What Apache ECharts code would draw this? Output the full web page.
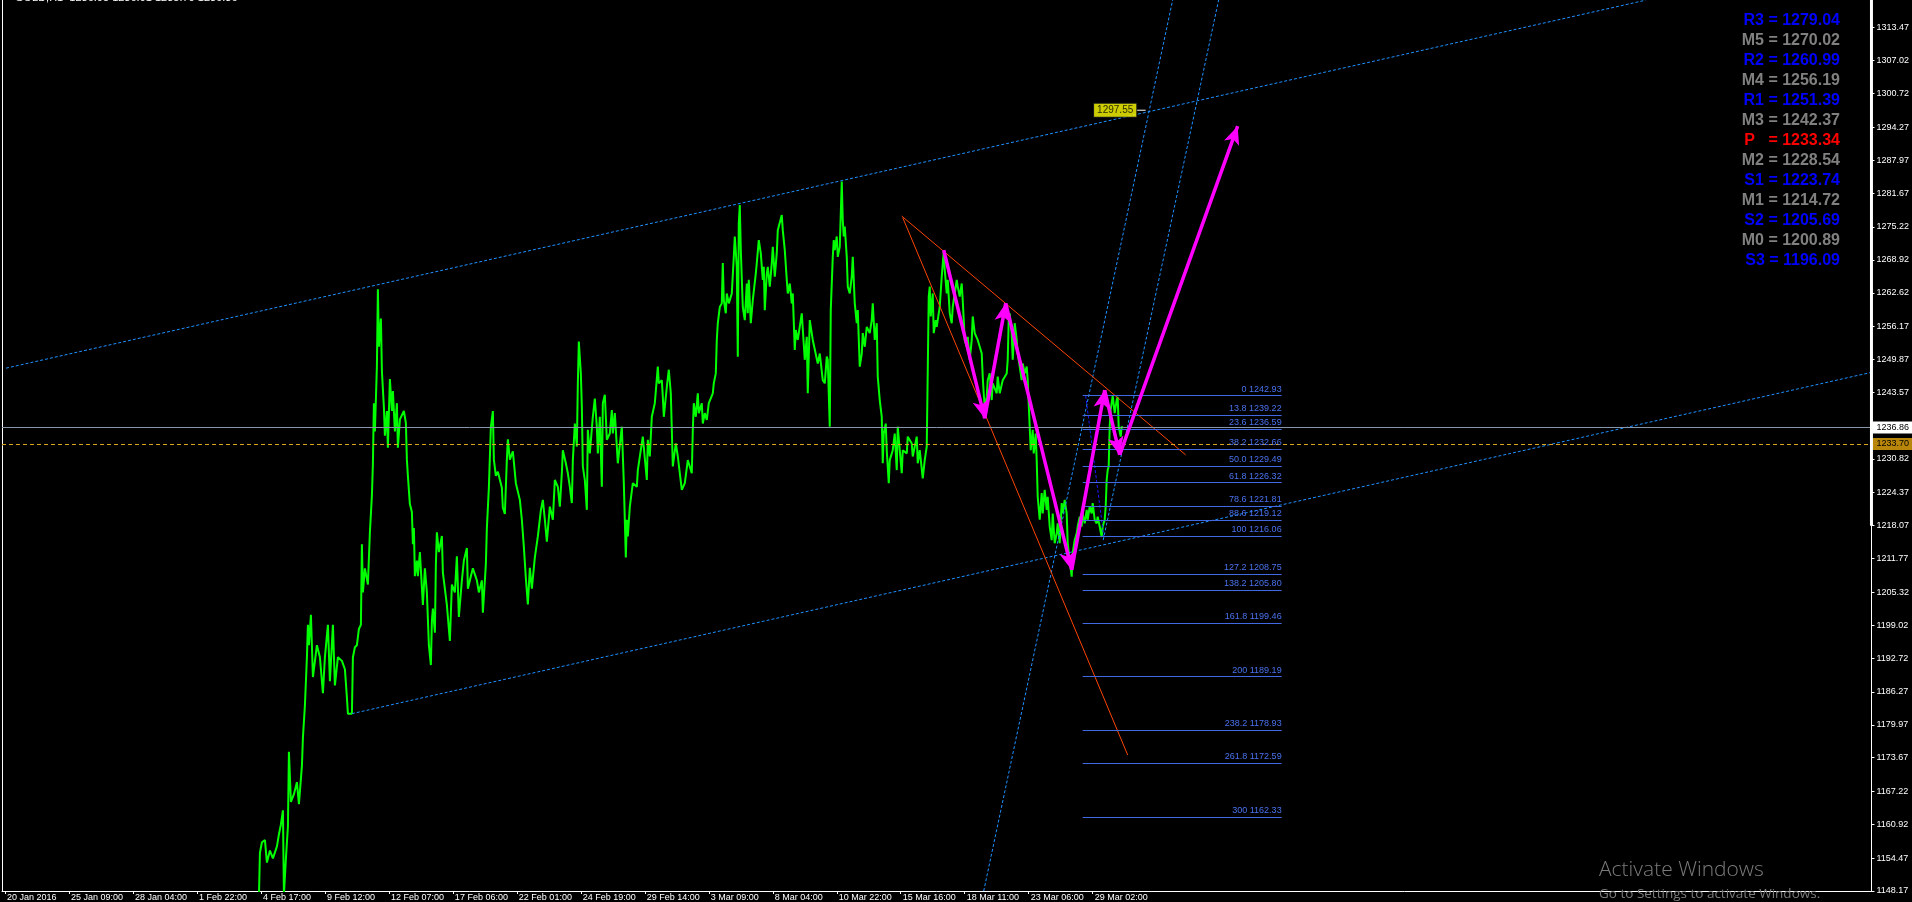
<!DOCTYPE html>
<html><head><meta charset="utf-8">
<script src="https://cdn.jsdelivr.net/npm/echarts@6/dist/echarts.min.js"></script>
<style>html,body{margin:0;padding:0;background:#000;overflow:hidden}#c{width:1912px;height:902px;}</style>
</head><body><div id="c"></div>
<script>
// ---------- data ----------
const titleText = '\u2022 GOLD,H1  1236.05 1236.91 1235.70 1236.86';
const xTickBars = [0,64,128,192,256,320,384,448,512,576,640,704,768,832,896,960,1024,1088];
const xTickLabels = ['20 Jan 2016','25 Jan 09:00','28 Jan 04:00','1 Feb 22:00','4 Feb 17:00','9 Feb 12:00','12 Feb 07:00','17 Feb 06:00','22 Feb 01:00','24 Feb 19:00','29 Feb 14:00','3 Mar 09:00','8 Mar 04:00','10 Mar 22:00','15 Mar 16:00','18 Mar 11:00','23 Mar 06:00','29 Mar 02:00'];
const yTickValues = [1313.47,1307.02,1300.72,1294.27,1287.97,1281.67,1275.22,1268.92,1262.62,1256.17,1249.87,1243.57,1230.82,1224.37,1218.07,1211.77,1205.32,1199.02,1192.72,1186.27,1179.97,1173.67,1167.22,1160.92,1154.47,1148.17];
const bidPrice = 1236.86;
const askPrice = 1233.70;

// GOLD H1 price path [bar index, price]
const priceSeries = [
[254,1147],[255,1155.5],[257,1157.5],[260,1157.9],[262,1153.6],[265,1155.9],[268,1154.4],[272,1156.7],[274,1159.0],[276,1160.9],[278,1163.6],[279,1147.5],[281,1154.4],[283,1160.5],[284,1174.8],[286,1165.2],[289,1166.7],[292,1169.0],[294,1164.8],[297,1172.1],[298,1177.5],[300,1183.7],[302,1192.9],[303,1199.1],[304,1195.2],[306,1201.0],[308,1189.1],[312,1195.2],[315,1192.9],[318,1186.0],[320,1192.9],[323,1199.1],[325,1188.3],[328,1199.1],[330,1187.5],[333,1192.9],[337,1192.2],[340,1190.6],[342,1185.2],[343,1182.1],[347,1182.1],[348,1192.9],[350,1194.8],[352,1195.2],[354,1198.3],[356,1199.1],[357,1214.5],[358,1205.3],[360,1209.9],[363,1206.8],[365,1216.8],[367,1223.8],[368,1229.9],[369,1241.5],[370,1236.1],[372,1248.5],[373,1263.3],[374,1252.3],[376,1257.7],[377,1247.7],[379,1240.7],[380,1235.3],[382,1240.0],[383,1233.0],[385,1246.1],[387,1240.0],[388,1243.8],[390,1236.1],[392,1241.5],[393,1233.0],[395,1238.4],[399,1240.0],[401,1237.7],[402,1230.7],[403,1227.6],[405,1222.2],[407,1220.7],[408,1214.5],[409,1217.6],[410,1208.4],[412,1211.4],[413,1208.4],[415,1213.0],[418,1202.9],[420,1209.9],[422,1205.3],[424,1195.2],[426,1191.4],[427,1199.9],[428,1202.2],[430,1197.6],[431,1210.7],[432,1216.8],[434,1213.0],[437,1216.1],[438,1209.1],[442,1202.9],[443,1200.6],[445,1196.0],[447,1206.8],[450,1205.3],[452,1212.2],[454,1200.6],[457,1207.6],[459,1211.4],[462,1213.8],[463,1206.0],[466,1208.4],[468,1209.9],[472,1207.6],[474,1205.3],[477,1207.6],[478,1201.4],[481,1210.7],[482,1217.6],[484,1225.3],[486,1236.9],[488,1240.0],[489,1230.7],[491,1227.6],[493,1228.4],[497,1225.3],[498,1221.5],[500,1220.3],[502,1230.7],[503,1234.6],[505,1230.7],[508,1232.3],
[511,1226.2],[513,1226.2],[515,1223.0],[517,1219.2],[519,1214],[521,1208],[523,1203],[525,1210],[527,1206],[530,1212],[533,1216],[536,1221],[538,1223.0],[540,1219.2],[542,1215],[545,1221.7],[548,1219.2],[550,1226.8],[553,1225.5],[555,1221.7],[557,1228.1],[558,1232.5],[561,1230.0],[563,1228.1],[565,1225.5],[567,1222.4],[568,1230.6],[570,1237.6],[572,1233.2],[573,1245.3],[574,1253.3],[576,1247.2],[577,1240.8],[578,1229.4],[580,1226.8],[582,1221.1],[583,1236.4],[585,1231.9],[588,1238.9],[590,1242.4],[592,1237.0],[593,1231.9],[595,1238.9],[597,1225.5],[598,1241.5],[600,1243.1],[602,1234.5],[605,1235.7],[607,1240.2],[608,1235.7],[610,1239.6],[613,1230.0],[617,1237.0],[619,1226.2],[621,1212],[622,1219.2],[623,1216],[625,1221.7],[628,1226.2],[632,1225.5],[633,1228.7],[637,1233.8],[638,1235.1],[642,1226.8],[643,1234.5],[645,1231.3],[647,1238.9],[650,1241.5],[653,1248.5],[654,1245.3],[657,1245.9],[658,1242.7],[659,1238.9],[662,1244.6],[664,1247.9],[666,1243.4],[667,1236.4],[668,1229.4],[671,1233.8],[673,1231.3],[677,1224.9],[680,1226.2],[683,1230.6],[687,1228.1],[688,1236.4],[689,1241.5],[691,1238.9],[693,1243.4],[694,1239.6],[697,1241.5],[698,1237.6],[700,1239.6],[702,1238.3],[704,1241.5],[708,1243.4],[709,1245.3],[711,1247.2],[712,1253.6],[713,1256.8],[715,1259.9],[717,1260.6],[718,1268.3],[719,1261.2],[721,1258.7],[722,1262.5],[724,1260.6],[727,1262.5],[729,1269.5],[730,1273.4],[732,1267.6],[733,1250.4],[734,1275.9],[735,1279.4],[736,1270.8],[738,1259.9],[740,1257.4],[742,1264.4],[743,1258.7],[744,1265.1],[746,1256.8],[748,1261.2],[751,1266.3],[752,1268.3],[754,1272.7],[756,1270.2],[758,1265.1],[759,1267.6],[760,1259.3],[762,1266.3],[763,1267.6],[765,1263.8],[767,1268.3],[768,1271.4],[770,1265.7],[772,1270.2],[773,1274.6],[777,1277.5],[778,1274.6],[780,1270.8],[782,1265.1],[783,1262.5],[785,1264.4],[787,1260.6],[788,1262.5],[790,1251.7],[791,1255.5],[793,1253.6],[797,1258.7],[800,1249.8],[802,1254.2],[803,1243.4],[805,1257.4],[808,1253.6],[813,1249.1],[815,1251.0],
[817,1251.0],[818,1245.9],[820,1245.3],[822,1250.4],[823,1249.8],[825,1237.0],[826,1259.3],[828,1269.5],[829,1272.7],[830,1270.8],[832,1273.4],[833,1269.5],[835,1271.4],[837,1283.9],[838,1276.5],[839,1273.4],[840,1275.3],[842,1269.5],[843,1263.8],[845,1262.5],[847,1265.7],[848,1269.5],[850,1260.6],[852,1256.8],[853,1259.3],[855,1248.5],[857,1251.0],[858,1254.9],[860,1252.3],[862,1256.1],[865,1254.9],[867,1257.4],[868,1260.6],[870,1253.6],[872,1256.8],[873,1246.6],[875,1242.1],[877,1238.9],[878,1230.0],[879,1235.7],[881,1237.6],[882,1232.5],[884,1226.2],[885,1230.6],[888,1232.5],[890,1235.7],[892,1228.7],[893,1237.0],[897,1228.1],[898,1232.5],[902,1231.9],[903,1235.1],[907,1233.8],[908,1231.3],[912,1235.1],[913,1230.0],[915,1232.5],[918,1227.1],[920,1230.6],[922,1233.2],[924,1261.9],[925,1263.8],[926,1258.1],[928,1262.5],[929,1254.9],[931,1257.4],[932,1256.1],[934,1258.7],[935,1259.9],[937,1265.7],[939,1270.5],[940,1267.0],[942,1262.5],[943,1265.1],[945,1258.7],[947,1256.8],[948,1259.9],[952,1265.1],[953,1263.8],[955,1261.9],[957,1264.4],[958,1261.2],[960,1253.6],[962,1252.3],[963,1254.2],[965,1249.8],[967,1253.6],[968,1258.1],[970,1254.9],[973,1253.6],[977,1251.0],[978,1246.6],[979,1243.4],[980,1240.8],[982,1242.7],[983,1245.9],[985,1247.2],[987,1242.1],[988,1245.3],[992,1243.4],[993,1246.6],[995,1243.4],[998,1245.9],[1002,1247.2],[1003,1249.8],[1004,1257.4],[1005,1258.7],[1007,1254.9],[1008,1249.8],[1010,1256.8],[1012,1253.6],[1013,1251.0],[1015,1248.5],[1017,1245.9],[1018,1249.1],[1020,1247.2],[1022,1248.5],[1023,1245.9],[1025,1237.0],[1026,1232.5],[1028,1236.4],[1029,1231.9],[1031,1235.7],[1032,1230.6],[1033,1223.6],[1035,1219.2],[1037,1224.3],[1038,1220.4],[1040,1224.9],[1042,1221.1],[1043,1223.6],[1045,1217.9],[1047,1215.3],[1048,1220.4],[1050,1214.7],[1052,1216.6],[1053,1218.5],[1055,1214.7],[1057,1222.4],[1058,1220.4],[1060,1223.0],[1062,1220.4],[1063,1214.7],[1065,1211.5],[1067,1208.3],[1068,1212.8],[1070,1215.3],[1072,1216.6],[1073,1217.9],[1075,1219.8],[1077,1217.9],[1078,1220.4],[1080,1218.5],[1082,1221.1],[1083,1219.2],[1085,1221.7],[1087,1220.4],[1088,1222.4],[1090,1219.2],[1092,1218.5],[1093,1219.8],[1095,1217.9],[1097,1215.9],[1098,1217.9],[1100,1219.2],[1101,1221.7],[1102,1226.8],[1103,1228.7],[1104,1229.4],[1105,1237.0],[1106,1240.2],[1108,1242.9],[1110,1239.6],[1112,1242.1],[1113,1242.7],[1114,1237.0],[1116,1235.1],[1117,1237.0],[1118,1236.86]
];

// trend lines: [[bar, price], [bar, price]]
const channelUpper = [[1, 1248.2], [1641, 1318.6]];
const channelLower = [[347, 1182.1], [1867, 1247.4]];
const steepLineA = [[979, 1148.17], [1168, 1318.64]];
const steepLineB = [[1098.5, 1215.3], [1214, 1318.64]];
const fibDiagonal = [[1081, 1242.93], [1099, 1216.06]];
const wedgeUpper = [[897, 1277.3], [1181, 1231.6]];
const wedgeLower = [[898, 1277.0], [1123, 1174.2]];
const trendLabelPoint = [1110.5, 1297.55];
const trendLabelTick = [[1132, 1297.55], [1141, 1297.55]];

// Fibonacci retracement / expansion
const fibStartBar = 1078, fibEndBar = 1277;
const fibLevels = ['0','13.8','23.6','38.2','50.0','61.8','78.6','88.6','100','127.2','138.2','161.8','200','238.2','261.8','300'];
const fibPrices = [1242.93,1239.22,1236.59,1232.66,1229.49,1226.32,1221.81,1219.12,1216.06,1208.75,1205.80,1199.46,1189.19,1178.93,1172.59,1162.33];

// magenta wave arrows (consecutive pivots)
const wavePoints = [[939,1270.8],[980,1238.6],[1001,1260.6],[1067,1209.6],[1100,1244.0],[1115,1231.6],[1233,1294.5]];

// pivot indicator panel
const pivotNames = ['R3','M5','R2','M4','R1','M3','P','M2','S1','M1','S2','M0','S3'];
const pivotValues = [1279.04,1270.02,1260.99,1256.19,1251.39,1242.37,1233.34,1228.54,1223.74,1214.72,1205.69,1200.89,1196.09];

// axis highlight bar on the price scale
const scaleBar = [[1867, 1318.64], [1867, 1218.07]];

// ---------- chart ----------
const chart = echarts.init(document.getElementById('c'), null, {renderer: 'canvas'});
const FONT = '"Liberation Sans", Arial, sans-serif';
const dotted = (c) => ({color: c, width: 1, type: [3, 2]});
function trend(name, pts, style, z) {
  return {name, type: 'line', data: pts, showSymbol: false, symbol: 'none', silent: true,
          lineStyle: style, clip: true, z: z || 3, animation: false};
}

const fibMarks = fibLevels.map((lv, i) => [
  {coord: [fibStartBar, fibPrices[i]], label: {formatter: lv + ' ' + fibPrices[i].toFixed(2)}},
  {coord: [fibEndBar, fibPrices[i]]}
]);
const waveMarks = [];
for (let i = 0; i < wavePoints.length - 1; i++) {
  waveMarks.push([{coord: wavePoints[i]}, {coord: wavePoints[i + 1]}]);
}

const pivotGraphics = pivotNames.map((n, i) => ({
  type: 'text', right: 72, top: 13 + i * 20, silent: true, z: 50,
  style: {
    text: (n === 'P' ? 'P   ' : n + ' ') + '= ' + pivotValues[i].toFixed(2),
    fill: n === 'P' ? '#ff0000' : (n[0] === 'M' ? '#808080' : '#0000ff'),
    font: 'bold 16px ' + FONT, textAlign: 'right'
  }
}));

const option = {
  backgroundColor: '#000000',
  animation: false,
  grid: {left: 2, right: 40, top: 0, bottom: 11},
  xAxis: {
    type: 'value', min: -3, max: 1867,
    axisLine: {show: true, onZero: false, lineStyle: {color: '#ffffff', width: 1}},
    axisTick: {show: true, customValues: xTickBars, length: 3, lineStyle: {color: '#ffffff'}},
    axisLabel: {show: true, customValues: xTickBars,
      formatter: (v) => { const k = xTickBars.indexOf(v); return k >= 0 ? xTickLabels[k] : ''; },
      color: '#ffffff', fontFamily: FONT, fontSize: 9,
      align: 'left', margin: 2, padding: [0, 0, 0, 2]},
    splitLine: {show: false}
  },
  yAxis: [{
    type: 'value', position: 'right', min: 1148.17, max: 1318.64,
    axisLine: {show: true, onZero: false, lineStyle: {color: '#ffffff', width: 1}},
    axisTick: {show: true, customValues: yTickValues, length: 3, lineStyle: {color: '#ffffff'}},
    axisLabel: {show: true, customValues: yTickValues, formatter: (v) => v.toFixed(2),
      color: '#ffffff', fontFamily: FONT, fontSize: 9, margin: 5},
    splitLine: {show: false}
  }, {
    type: 'value', position: 'left', min: 1148.17, max: 1318.64,
    axisLine: {show: true, onZero: false, lineStyle: {color: '#ffffff', width: 1}},
    axisTick: {show: false}, axisLabel: {show: false}, splitLine: {show: false}
  }],
  graphic: [
    {type: 'text', left: 8, top: -8, silent: true,
     style: {text: titleText, fill: '#ffffff', font: '11px ' + FONT}},
    ...pivotGraphics,
    {type: 'text', left: 1599, top: 860, silent: true, z: 60,
     style: {text: 'Activate Windows', fill: '#7b7b7b', font: '300 21px "Open Sans", "Noto Sans", sans-serif'}},
    {type: 'text', left: 1599, top: 887, silent: true, z: 60,
     style: {text: 'Go to Settings to activate Windows.', fill: '#7b7b7b', font: '13.5px "Open Sans", "Noto Sans", sans-serif'}}
  ],
  series: [
    {name: 'GOLD', type: 'line', data: priceSeries, showSymbol: false, symbol: 'none', silent: true,
     lineStyle: {color: '#00ff00', width: 2}, clip: true, z: 2,
     markLine: {silent: true, symbol: ['none', 'none'], animation: false,
       data: [
         {yAxis: bidPrice, lineStyle: {color: '#8796a8', width: 1, type: 'solid'},
          label: {show: true, position: 'end', distance: 1, formatter: bidPrice.toFixed(2),
                  backgroundColor: '#ffffff', color: '#000000', fontSize: 9,
                  fontFamily: FONT, padding: [2, 4, 1, 4]}},
         {yAxis: askPrice, lineStyle: {color: '#daa520', width: 1, type: [4, 3]},
          label: {show: true, position: 'end', distance: 1, formatter: askPrice.toFixed(2),
                  backgroundColor: '#b8860b', color: '#000000', fontSize: 9,
                  fontFamily: FONT, padding: [2, 4, 1, 4]}}
       ]}},
    trend('channelUpper', channelUpper, dotted('#1e90ff')),
    trend('channelLower', channelLower, dotted('#1e90ff')),
    trend('steepA', steepLineA, dotted('#1e90ff')),
    trend('steepB', steepLineB, dotted('#1e90ff')),
    trend('wedgeUpper', wedgeUpper, {color: '#ff4500', width: 1, type: 'solid'}),
    trend('wedgeLower', wedgeLower, {color: '#ff4500', width: 1, type: 'solid'}),
    Object.assign(trend('fibDiag', fibDiagonal, dotted('#1a1aff'), 4), {
      markLine: {silent: true, symbol: ['none', 'none'], animation: false,
        lineStyle: {color: '#4169e1', width: 1, type: 'solid'},
        label: {show: true, position: 'insideEndTop', distance: [0, 2], color: '#4a72ee', fontSize: 9,
                fontFamily: FONT},
        data: fibMarks}
    }),
    {name: 'waves', type: 'line', data: [], silent: true, z: 6,
     markLine: {silent: true, symbol: ['none', 'arrow'], symbolSize: [12, 18], animation: false,
       lineStyle: {color: '#ff00ff', width: 3.5, type: 'solid'},
       itemStyle: {color: '#ff00ff'},
       label: {show: false}, data: waveMarks}},
    trend('trendLabelTick', trendLabelTick, {color: '#ffffff', width: 1, type: 'solid'}, 6),
    {name: 'trendLabel', type: 'scatter', data: [trendLabelPoint], symbolSize: 1, silent: true, z: 7,
     itemStyle: {color: 'rgba(0,0,0,0)'},
     label: {show: true, position: 'inside', formatter: (p) => p.value[1].toFixed(2),
             backgroundColor: '#ffff00', borderColor: '#202020', borderWidth: 1, color: '#000000',
             fontSize: 10, fontFamily: FONT, padding: [2, 3, 1, 3]}},
    {name: 'scaleBar', type: 'line', data: scaleBar, showSymbol: false, symbol: 'none', silent: true,
     clip: false, z: 8, lineStyle: {color: '#ffffff', width: 3}}
  ]
};
chart.setOption(option);
</script></body></html>
